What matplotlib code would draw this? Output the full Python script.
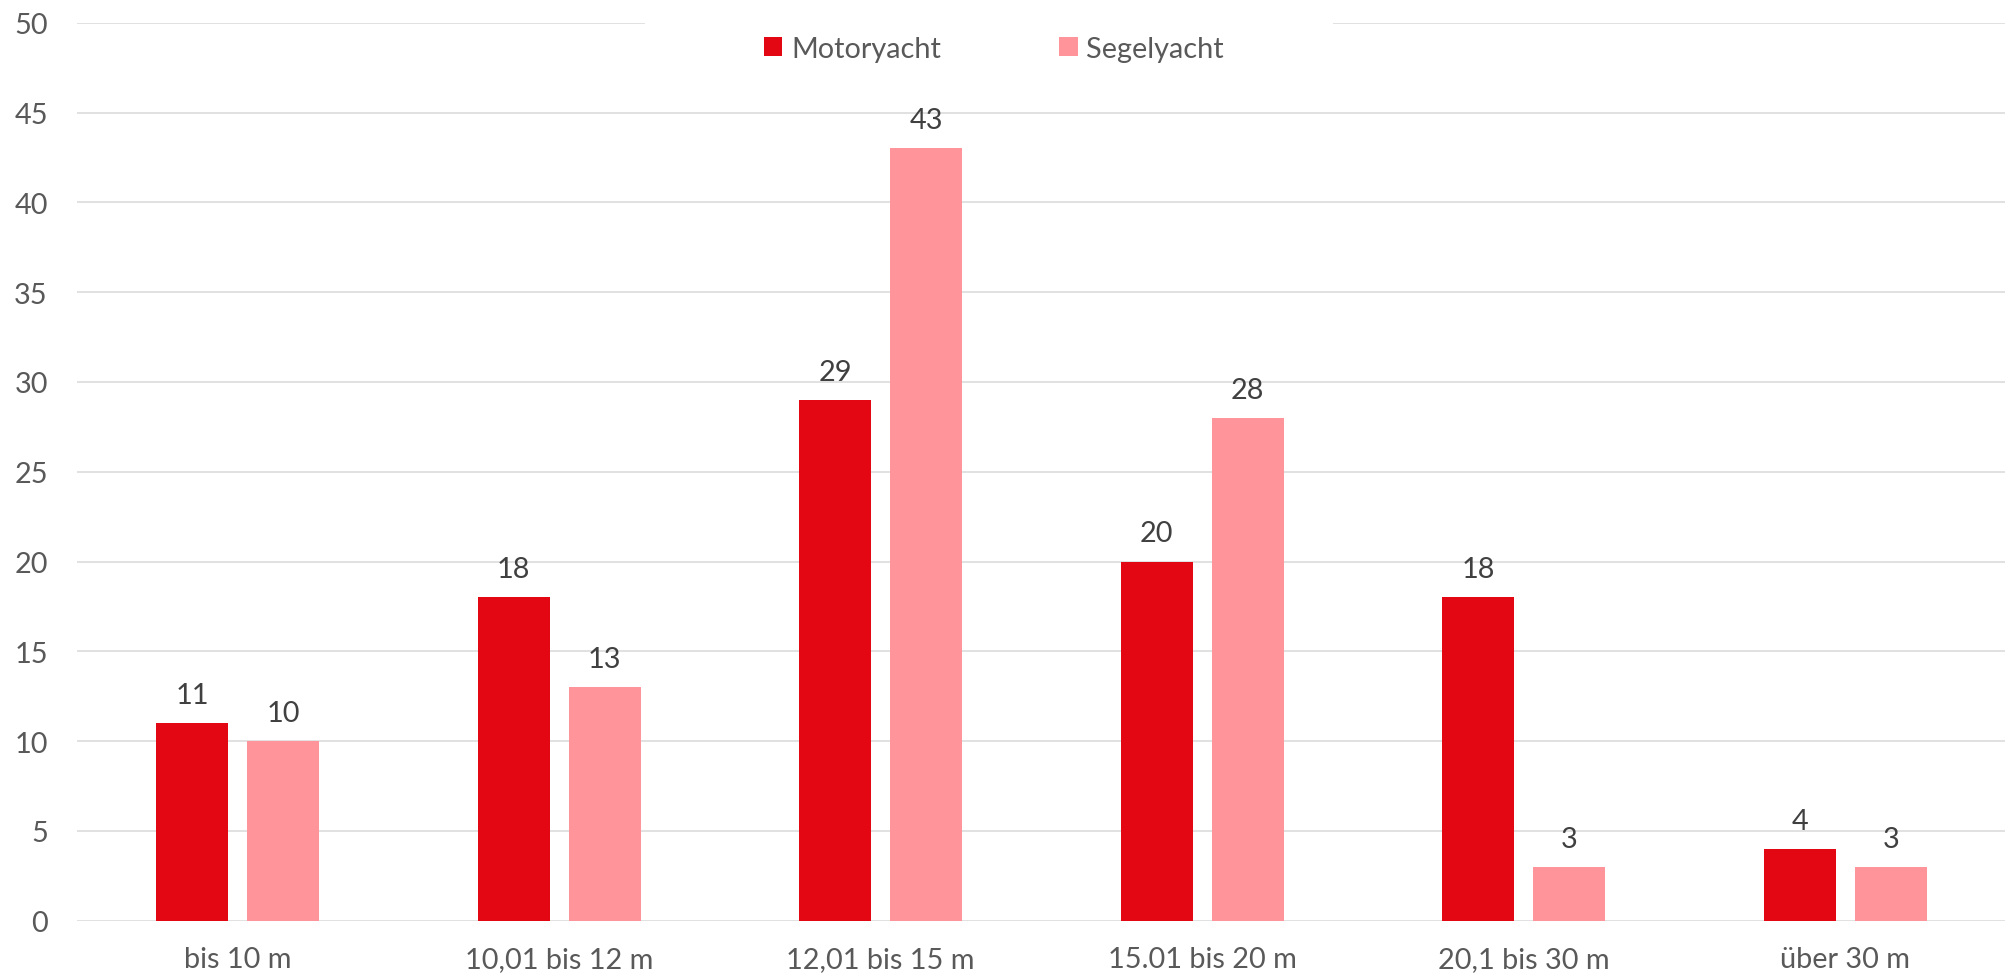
import matplotlib
matplotlib.use("Agg")
import matplotlib.pyplot as plt
import numpy as np
from matplotlib.patches import Patch, Rectangle

categories = ["bis 10 m", "10,01 bis 12 m", "12,01 bis 15 m", "15.01 bis 20 m", "20,1 bis 30 m", "über 30 m"]
series_names = ["Motoryacht", "Segelyacht"]
motoryacht = [11, 18, 29, 20, 18, 4]
segelyacht = [10, 13, 43, 28, 3, 3]
yticks = [0, 5, 10, 15, 20, 25, 30, 35, 40, 45, 50]

colors = ["#E30613", "#FF949A"]
tick_color = "#595959"
label_color = "#404040"
grid_color = "#D9D9D9"

plt.rcParams["font.family"] = ["Lato", "DejaVu Sans"]
FS = 20.8

W, H = 2006, 978
fig = plt.figure(figsize=(W / 100, H / 100), dpi=100)
ax = fig.add_axes([77 / W, (H - 921.7) / H, 1929 / W, 898 / H])

x = np.arange(len(categories))
bw = 0.224
off = 0.1414
for vals, name, col, sgn in [(motoryacht, series_names[0], colors[0], -1),
                             (segelyacht, series_names[1], colors[1], 1)]:
    ax.bar(x + sgn * off, vals, width=bw, color=col, zorder=3, label=name)
    for xi, v in zip(x + sgn * off, vals):
        ax.annotate(str(v), (xi, v), xytext=(0, 14.5), textcoords="offset points",
                    ha="center", va="baseline", fontsize=FS, color=label_color, zorder=4)

ax.set_xlim(-0.5, len(categories) - 0.5)
ax.set_ylim(0, 50)
ax.set_yticks(yticks)
ax.set_xticks(x)
ax.set_xticklabels(categories)
for s in ax.spines.values():
    s.set_visible(False)
ax.tick_params(axis="both", length=0, labelsize=FS, colors=tick_color)
ax.tick_params(axis="y", pad=21)
ax.tick_params(axis="x", pad=18.5)
ax.yaxis.grid(True, color=grid_color, linewidth=1.1, zorder=0)
ax.set_axisbelow(True)

# legend background box (white, covers top gridline)
fig.patches.append(Rectangle((645 / W, 1 - 90 / H), (1333 - 645) / W, 80 / H,
                             transform=fig.transFigure, facecolor="white",
                             edgecolor="none", zorder=5))
handles = [Patch(facecolor=colors[0], edgecolor="none"), Patch(facecolor=colors[1], edgecolor="none")]
leg = fig.legend(handles, series_names, loc="center", bbox_to_anchor=(994 / W, 1 - 50 / H),
                 ncol=2, frameon=False, fontsize=FS, handlelength=0.63, handleheight=0.63,
                 handletextpad=0.3, columnspacing=4.1, labelcolor=tick_color)
leg.set_zorder(6)

fig.savefig("out.png", dpi=100, facecolor="white")
